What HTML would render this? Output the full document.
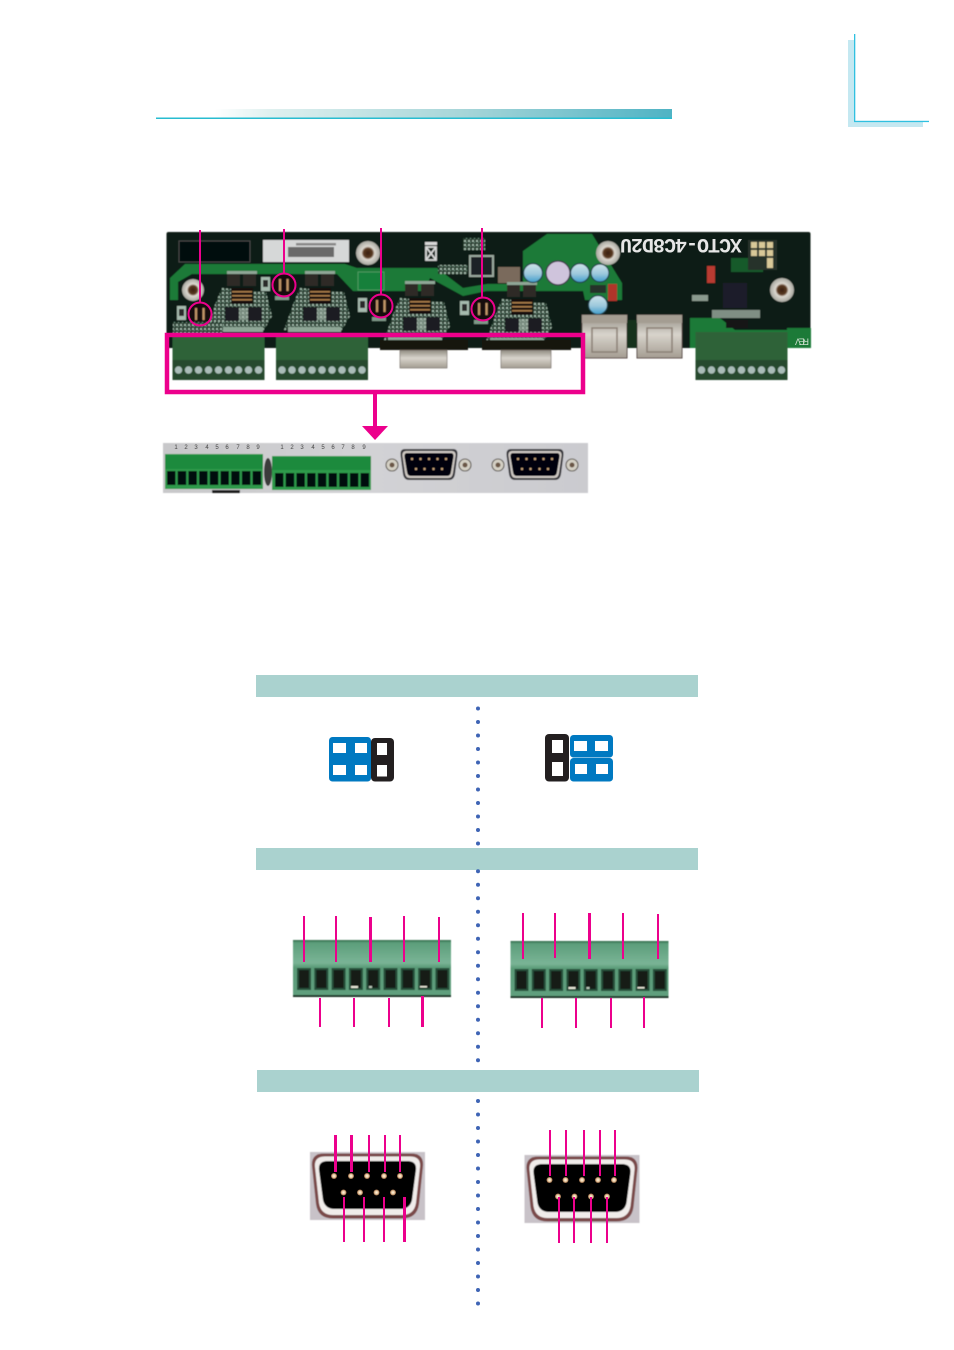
<!DOCTYPE html>
<html lang="en">
<head>
<meta charset="utf-8">
<title>Diagram</title>
<style>
html,body{margin:0;padding:0;background:#fff;width:954px;height:1350px;overflow:hidden}
svg{display:block;position:absolute;left:0;top:0}
text{font-family:"Liberation Sans",sans-serif}
</style>
</head>
<body>
<svg width="954" height="1350" viewBox="0 0 954 1350" xmlns="http://www.w3.org/2000/svg">
<defs>
  <linearGradient id="hdr" x1="0" x2="1" y1="0" y2="0">
    <stop offset="0" stop-color="#ffffff"/>
    <stop offset=".12" stop-color="#dff0ef"/>
    <stop offset=".55" stop-color="#a6d5d8"/>
    <stop offset="1" stop-color="#4fb3c4"/>
  </linearGradient>
  <linearGradient id="strip" x1="0" x2="1" y1="0" y2="0">
    <stop offset="0" stop-color="#c8c8ca"/>
    <stop offset=".5" stop-color="#d2d2d5"/>
    <stop offset="1" stop-color="#cbcbcf"/>
  </linearGradient>
  <linearGradient id="tb" x1="0" x2="0" y1="0" y2="1">
    <stop offset="0" stop-color="#33694c"/>
    <stop offset=".05" stop-color="#5c9e7b"/>
    <stop offset=".4" stop-color="#7ab496"/>
    <stop offset=".48" stop-color="#5a9b78"/>
    <stop offset="1" stop-color="#60a07e"/>
  </linearGradient>
  <linearGradient id="silver" x1="0" x2="0" y1="0" y2="1">
    <stop offset="0" stop-color="#8f8a80"/>
    <stop offset=".45" stop-color="#d8d4cc"/>
    <stop offset="1" stop-color="#a49d92"/>
  </linearGradient>
  <linearGradient id="capb" x1="0" x2="0" y1="0" y2="1">
    <stop offset="0" stop-color="#cfe4ea"/>
    <stop offset=".55" stop-color="#9cc8dc"/>
    <stop offset="1" stop-color="#3f9ccc"/>
  </linearGradient>
  <radialGradient id="screw">
    <stop offset="0" stop-color="#3a2010"/>
    <stop offset=".38" stop-color="#5a3a22"/>
    <stop offset=".55" stop-color="#dcd8d0"/>
    <stop offset="1" stop-color="#a8a8a0"/>
  </radialGradient>
  <radialGradient id="pin"><stop offset="0" stop-color="#fff6e4"/><stop offset=".55" stop-color="#e8c9a0"/><stop offset="1" stop-color="#8a5a38"/></radialGradient>
  <pattern id="speck" width="4" height="4" patternUnits="userSpaceOnUse">
    <rect width="4" height="4" fill="#20382c"/>
    <rect x="0" y="0" width="2" height="2" fill="#9db5a6"/>
    <rect x="2" y="2" width="1" height="1" fill="#6f9480"/>
  </pattern>
  <filter id="b1" x="-5%" y="-5%" width="110%" height="110%"><feGaussianBlur stdDeviation=".6"/></filter>
  <filter id="b2" x="-5%" y="-5%" width="110%" height="110%"><feGaussianBlur stdDeviation=".4"/></filter>

  <g id="slot">
    <rect x="0" y="0" width="14" height="22" fill="#27503a"/>
    <rect x="2" y="2" width="10" height="18" fill="#141c18"/>
  </g>
  <g id="tblock">
    <rect x="0" y="0" width="158" height="57" fill="url(#tb)"/>
    <rect x="0" y="55" width="158" height="2" fill="#1c3527"/>
    <use href="#slot" x="4" y="28"/><use href="#slot" x="21.3" y="28"/><use href="#slot" x="38.6" y="28"/>
    <use href="#slot" x="55.9" y="28"/><use href="#slot" x="73.2" y="28"/><use href="#slot" x="90.500" y="28"/>
    <use href="#slot" x="107.800" y="28"/><use href="#slot" x="125.100" y="28"/><use href="#slot" x="142.400" y="28"/>
    <rect x="58" y="46" width="7" height="2" fill="#e8e8d8"/>
    <rect x="76" y="46" width="3" height="2" fill="#b8c8b8"/>
    <rect x="127" y="46" width="7" height="1.500" fill="#e8e8d8"/>
  </g>

  <g id="stripslots">
    <rect x="0" width="8.500" height="14" fill="#060b08"/><rect x="10.700" width="8.500" height="14" fill="#060b08"/>
    <rect x="21.400" width="8.500" height="14" fill="#060b08"/><rect x="32.100" width="8.500" height="14" fill="#060b08"/>
    <rect x="42.800" width="8.500" height="14" fill="#060b08"/><rect x="53.500" width="8.500" height="14" fill="#060b08"/>
    <rect x="64.200" width="8.500" height="14" fill="#060b08"/><rect x="74.900" width="8.500" height="14" fill="#060b08"/>
    <rect x="85.600" width="8.500" height="14" fill="#060b08"/>
  </g>

  <g id="screws9">
    <rect x="0" y="0" width="92" height="20" fill="#27482f"/>
    <g fill="#a9bcb8">
      <circle cx="6" cy="10" r="3.700"/><circle cx="16" cy="10" r="3.700"/><circle cx="26" cy="10" r="3.700"/>
      <circle cx="36" cy="10" r="3.700"/><circle cx="46" cy="10" r="3.700"/><circle cx="56" cy="10" r="3.700"/>
      <circle cx="66" cy="10" r="3.700"/><circle cx="76" cy="10" r="3.700"/><circle cx="86" cy="10" r="3.700"/>
    </g>
  </g>

  <g id="mod">
    <path d="M-20,-8 L-26,6 L-36,34 H22 L30,20 L24,-4Z" fill="url(#speck)"/>
    <rect x="-15" y="-25" width="30" height="3" fill="#8fa696"/>
    <rect x="-15" y="-22" width="13" height="12" fill="#2f2a26"/>
    <rect x="1" y="-22" width="13" height="12" fill="#2f2a26"/>
    <rect x="-11" y="-8" width="22" height="16" fill="#15100c"/>
    <rect x="-10" y="-5" width="20" height="1.600" fill="#a87c48"/>
    <rect x="-10" y="-1" width="20" height="1.600" fill="#a87c48"/>
    <rect x="-10" y="3" width="20" height="1.600" fill="#a87c48"/>
    <rect x="-17" y="11" width="14" height="14" fill="#1c1a24"/>
    <rect x="6" y="11" width="14" height="14" fill="#1c1a24"/>
    <rect x="-3" y="12" width="9" height="12" fill="#aebcb0" opacity=".6"/>
    <rect x="-32" y="31" width="53" height="5" fill="#8ea696"/>
  </g>

  <g id="circJ">
    <circle r="11" fill="#160e08"/>
    <rect x="-5" y="-6" width="2.200" height="12" fill="#c09468"/>
    <rect x="2.500" y="-6" width="2.200" height="12" fill="#c09468"/>
    <rect x="-9" y="11" width="14" height="4" fill="#7e9888"/>
    <rect x="-23" y="-8" width="9" height="14" fill="#a6baae"/>
    <rect x="-21" y="-5" width="5" height="7" fill="#2a2a2a"/>
  </g>

  <g id="dbphoto">
    <path d="M-24,-16 H24 Q29,-16 28.500,-10 L26,9 Q25,15 20,15 H-20 Q-25,15 -26,9 L-28.500,-10 Q-29,-16 -24,-16Z" fill="#36343a"/>
    <path d="M-23,-14 H23 Q27,-14 26.500,-9 L24,8 Q23.500,13 19,13 H-19 Q-23.500,13 -24,8 L-26.500,-9 Q-27,-14 -23,-14Z" fill="#cfc9c4"/>
    <path d="M-22,-12 H22 Q25,-12 24.500,-8 L22,7 Q21.500,11 18,11 H-18 Q-21.500,11 -22,7 L-24.500,-8 Q-25,-12 -22,-12Z" fill="#060608"/>
    <g fill="#c9a47c">
      <circle cx="-17" cy="-6" r="1.200"/><circle cx="-8.500" cy="-6" r="1.200"/><circle cx="0" cy="-6" r="1.200"/><circle cx="8.500" cy="-6" r="1.200"/><circle cx="17" cy="-6" r="1.200"/>
      <circle cx="-13" cy="4" r="1.200"/><circle cx="-4.500" cy="4" r="1.200"/><circle cx="4.500" cy="4" r="1.200"/><circle cx="13" cy="4" r="1.200"/>
    </g>
  </g>
  <g id="screwsm">
    <circle r="6" fill="#d4d0c4" stroke="#5a5550" stroke-width="1.100"/>
    <circle r="2.500" fill="#6a5644"/>
  </g>

  <g id="db9">
    <rect x="0" y="0" width="115" height="68" fill="#c8c2c8"/>
    <path d="M14,1.500 H101 Q114,1.500 113,14 L109,52 Q107,66.500 92,66.500 H23 Q8,66.500 6,52 L2,14 Q1,1.500 14,1.500Z" fill="#7a4a4a"/>
    <path d="M15,4.500 H100 Q111,4.500 110,15 L106,51 Q104,63 92,63 H23 Q11,63 9,51 L5,15 Q4,4.500 15,4.500Z" fill="#f0ecea"/>
    <path d="M18,9 H97 Q107,9 106,18 L102,48 Q100,57 90,57 H25 Q15,57 13,48 L9,18 Q8,9 18,9Z" fill="#040404"/>
  </g>
</defs>

<!-- Page header -->
<rect x="215" y="109" width="457" height="9" fill="url(#hdr)"/>
<rect x="156" y="117.500" width="516" height="1.500" fill="#28bcd0"/>

<!-- Corner mark -->
<rect x="848" y="40" width="75" height="87" fill="#c4e8f1"/>
<rect x="855" y="40" width="68" height="81" fill="#fff"/>
<rect x="854" y="34" width="1.300" height="88" fill="#2fc0e0"/>
<rect x="854" y="120.800" width="75" height="1.300" fill="#2fc0e0"/>

<!-- PCB photo -->
<g filter="url(#b1)">
  <rect x="166.500" y="232" width="644" height="116" rx="2" fill="#0a1a12"/>
  <!-- copper band -->
  <path d="M170,300 V278 L185,264 H345 L357,268 H437 L463,288 L487,284 H523 L523,251 L547,234 H592 L622,283 V300 H585 L583,291 H523 H487 L463,296 L430,278 L425,291 H353 L337,274 H192 L178,282 V300Z" fill="#1a7a38"/>
  <!-- right green -->
  <path d="M690,318 L720,318 L735,330 H787 V328 H811 V348 H690Z" fill="#1c7a38"/>
  <rect x="731" y="258" width="32" height="14" fill="#145a2c"/>

  <!-- top black block & barcode -->
  <rect x="179" y="241" width="71" height="21" fill="#06080a" stroke="#4a4a4a" stroke-width="1"/>
  <rect x="263" y="240" width="86" height="22" fill="#d6d8d8"/>
  <rect x="288" y="247" width="46" height="10" fill="#6a6a6a"/>
  <rect x="296" y="243" width="40" height="2.500" fill="#888"/>
  <rect x="358" y="272" width="26" height="18" fill="#14803a" stroke="#5aa06c" stroke-width=".8"/>

  <!-- bin icon -->
  <path d="M426,247 H436 V260 H426Z M426,247 L436,260 M436,247 L426,260" fill="none" stroke="#d8d8d8" stroke-width="1.800"/>
  <rect x="425" y="242" width="12" height="3" fill="#d8d8d8"/>

  <!-- central chip -->
  <rect x="463" y="238" width="22" height="12" fill="url(#speck)"/>
  <rect x="470" y="256" width="23" height="20" fill="#1c2228" stroke="#9aa89e" stroke-width="2"/>
  <rect x="438" y="265" width="30" height="9" fill="url(#speck)"/>
  <rect x="498" y="267" width="22" height="16" fill="#7a6a5c"/>

  <!-- screws -->
  <circle cx="193" cy="290" r="11" fill="url(#screw)"/>
  <circle cx="368" cy="253" r="12" fill="url(#screw)"/>
  <circle cx="608" cy="253" r="12" fill="url(#screw)"/>
  <circle cx="782" cy="290" r="12" fill="url(#screw)"/>

  <!-- modules -->
  <use href="#mod" x="242" y="296"/>
  <use href="#mod" x="320" y="296"/>
  <use href="#mod" x="420" y="306"/>
  <use href="#mod" x="522" y="307"/>

  <!-- jumpers under circles -->
  <use href="#circJ" x="200" y="314"/>
  <use href="#circJ" x="284" y="285"/>
  <use href="#circJ" x="381" y="306"/>
  <use href="#circJ" x="483" y="309"/>
  <rect x="173" y="322" width="50" height="12" fill="url(#speck)"/>

  <!-- capacitors -->
  <circle cx="533" cy="273" r="9.500" fill="url(#capb)" stroke="#24404c" stroke-width="1.200"/>
  <circle cx="558" cy="273" r="12" fill="#cfc4dc" stroke="#3c3248" stroke-width="1.200"/>
  <circle cx="580" cy="273" r="9.500" fill="url(#capb)" stroke="#24404c" stroke-width="1.200"/>
  <circle cx="600" cy="273" r="9" fill="url(#capb)" stroke="#24404c" stroke-width="1.200"/>
  <circle cx="598" cy="305" r="9.500" fill="url(#capb)" stroke="#24404c" stroke-width="1.200"/>
  <rect x="608" y="284" width="9" height="17" fill="#b0352a"/>
  <rect x="590" y="285" width="16" height="8" fill="#26302a"/>

  <!-- right side parts -->
  <rect x="707" y="266" width="8" height="17" fill="#b83a32"/>
  <rect x="723" y="283" width="24" height="25" fill="#1c1c2a"/>
  <rect x="692" y="295" width="16" height="6" fill="#8a9a8e"/>
  <rect x="712" y="310" width="48" height="8" fill="#7f8f84"/>
  <rect x="726" y="320" width="22" height="8" fill="#141414"/>
  <rect x="748" y="240" width="29" height="30" fill="#26302a"/>
  <g fill="#d8c898">
    <rect x="751" y="242" width="6" height="6"/><rect x="759" y="242" width="6" height="6"/><rect x="767" y="242" width="6" height="6"/>
    <rect x="751" y="250" width="6" height="6"/><rect x="759" y="250" width="6" height="6"/><rect x="767" y="250" width="6" height="6"/>
    <rect x="767" y="258" width="6" height="10"/>
  </g>

  <!-- silver ports -->
  <rect x="582" y="315" width="45" height="43" fill="url(#silver)" stroke="#5a4e48" stroke-width="1"/>
  <rect x="637" y="315" width="45" height="43" fill="url(#silver)" stroke="#5a4e48" stroke-width="1"/>
  <rect x="582" y="315" width="45" height="8" fill="#a49d92"/>
  <rect x="637" y="315" width="45" height="8" fill="#a49d92"/>
  <rect x="592" y="328" width="25" height="24" fill="none" stroke="#8a7f74" stroke-width="1.500"/>
  <rect x="647" y="328" width="25" height="24" fill="none" stroke="#8a7f74" stroke-width="1.500"/>
  <rect x="627" y="320" width="10" height="28" fill="#18301f"/>

  <!-- terminal blocks on PCB -->
  <rect x="172.500" y="336" width="92" height="25" fill="#2d6238"/>
  <use href="#screws9" x="172.500" y="360"/>
  <rect x="276" y="336" width="92" height="25" fill="#2d6238"/>
  <use href="#screws9" x="276" y="360"/>
  <rect x="695.500" y="332" width="92" height="29" fill="#2d6238"/>
  <use href="#screws9" x="695.500" y="360"/>

  <!-- D-sub on PCB -->
  <rect x="380" y="340" width="88" height="10" fill="#16120f"/>
  <rect x="400" y="350" width="47" height="18" fill="url(#silver)" stroke="#6a625a" stroke-width=".6"/>
  <rect x="482" y="340" width="89" height="10" fill="#16120f"/>
  <rect x="501" y="350" width="50" height="18" fill="url(#silver)" stroke="#6a625a" stroke-width=".6"/>
</g>
<text transform="rotate(180 681 245.500)" x="620" y="252" font-size="20" font-weight="700" fill="#e6e6e6" textLength="122" lengthAdjust="spacing" style="font-family:'Liberation Mono',monospace">XCTO-4C8D2U</text>
<text transform="rotate(180 802 342)" x="795" y="345.500" font-size="9" fill="#cfe0d0" textLength="14">REV</text>

<!-- Pink callouts on PCB -->
<g stroke="#ec008c" fill="none">
  <g stroke-width="2">
    <line x1="200" y1="230" x2="200" y2="303"/>
    <line x1="284" y1="229" x2="284" y2="274"/>
    <line x1="381" y1="228" x2="381" y2="295"/>
    <line x1="482" y1="228" x2="482" y2="298"/>
    <circle cx="200" cy="314" r="11.500"/>
    <circle cx="284" cy="285" r="11.500"/>
    <circle cx="381" cy="306" r="11.500"/>
    <circle cx="483" cy="309" r="11.500"/>
  </g>
  <rect x="167" y="335" width="416" height="57" stroke-width="4.500"/>
  <line x1="375" y1="394" x2="375" y2="427" stroke-width="4"/>
</g>
<polygon points="362,426 388,426 375,440" fill="#ec008c"/>

<!-- Strip photo -->
<g filter="url(#b2)">
  <rect x="163" y="443" width="425" height="50" fill="url(#strip)"/>
  <ellipse cx="268" cy="472" rx="4" ry="14" fill="#3a3a3a"/>
  <rect x="165" y="454" width="98" height="35" fill="#2f9a4c"/>
  <rect x="165" y="455" width="98" height="14" fill="#1e8a3c"/>
  <use href="#stripslots" x="167" y="471"/>
  <rect x="272" y="456" width="99" height="34" fill="#2f9a4c"/>
  <rect x="272" y="457" width="99" height="13" fill="#1e8a3c"/>
  <use href="#stripslots" x="275" y="473"/>
  <rect x="212" y="490" width="28" height="3" fill="#1a1a1a"/>
  <use href="#dbphoto" x="429" y="465"/>
  <use href="#dbphoto" x="535" y="465"/>
  <use href="#screwsm" x="392" y="465"/>
  <use href="#screwsm" x="465" y="465"/>
  <use href="#screwsm" x="498" y="465"/>
  <use href="#screwsm" x="572" y="465"/>
</g>
<g font-size="6" fill="#444" text-anchor="middle">
  <text x="176" y="449">1</text><text x="186" y="449">2</text><text x="196" y="449">3</text><text x="207" y="449">4</text><text x="217" y="449">5</text><text x="227" y="449">6</text><text x="238" y="449">7</text><text x="248" y="449">8</text><text x="258" y="449">9</text>
  <text x="282" y="449">1</text><text x="292" y="449">2</text><text x="302" y="449">3</text><text x="313" y="449">4</text><text x="323" y="449">5</text><text x="333" y="449">6</text><text x="343" y="449">7</text><text x="353" y="449">8</text><text x="364" y="449">9</text>
</g>

<!-- Section bars -->
<rect x="256" y="675" width="442" height="22" fill="#aad2cf"/>
<rect x="256" y="848" width="442" height="22" fill="#aad2cf"/>
<rect x="257" y="1070" width="442" height="22" fill="#aad2cf"/>

<!-- Dotted dividers -->
<g stroke="#3e64b5" stroke-width="4" stroke-linecap="round" stroke-dasharray="0 13.500" fill="none">
  <line x1="478" y1="708.500" x2="478" y2="845"/>
  <line x1="478" y1="871.200" x2="478" y2="1062"/>
  <line x1="478" y1="1101" x2="478" y2="1305"/>
</g>

<!-- Jumper left -->
<rect x="329" y="737" width="42" height="22" rx="3.500" fill="#0079c1"/>
<rect x="329" y="759" width="42" height="22.500" rx="3.500" fill="#0079c1"/>
<rect x="329" y="750" width="42" height="20" fill="#0079c1"/>
<rect x="371" y="738" width="23" height="43.500" rx="4" fill="#231f20"/>
<g fill="#fff">
  <rect x="333" y="743" width="13" height="10"/><rect x="355" y="743" width="12" height="10"/>
  <rect x="333" y="765" width="13" height="10"/><rect x="355" y="765" width="12" height="10"/>
  <rect x="377" y="743" width="10" height="12"/><rect x="377" y="765" width="10" height="11.500"/>
</g>
<!-- Jumper right -->
<rect x="545" y="734" width="24" height="47.500" rx="4" fill="#231f20"/>
<rect x="570" y="735" width="43" height="22.500" rx="3.500" fill="#0079c1"/>
<rect x="570" y="758" width="43" height="23.500" rx="3.500" fill="#0079c1"/>
<g fill="#fff">
  <rect x="552" y="740" width="11" height="13"/><rect x="552" y="762" width="11" height="14"/>
  <rect x="574" y="741" width="13" height="10"/><rect x="595" y="741" width="13" height="10"/>
  <rect x="575" y="764" width="12" height="10"/><rect x="596" y="764" width="12" height="10"/>
</g>

<!-- Terminal blocks -->
<g filter="url(#b2)">
  <use href="#tblock" x="293" y="940"/>
  <use href="#tblock" x="510.500" y="941"/>
</g>
<g fill="#ec008c">
  <rect x="303" y="916" width="2" height="46"/><rect x="335" y="916" width="2" height="46"/>
  <rect x="369" y="917" width="3" height="45"/><rect x="403" y="916" width="2" height="46"/><rect x="438" y="917" width="2" height="45"/>
  <rect x="319" y="998" width="2" height="29"/><rect x="353" y="998" width="2" height="29"/>
  <rect x="388" y="998" width="2" height="29"/><rect x="421" y="996" width="3" height="31"/>
  <rect x="522" y="913" width="2" height="46"/><rect x="554" y="913" width="2" height="45"/>
  <rect x="588" y="913" width="3" height="46"/><rect x="622" y="913" width="2" height="46"/><rect x="657" y="914" width="2" height="45"/>
  <rect x="541" y="998" width="2" height="30"/><rect x="575" y="998" width="2" height="30"/>
  <rect x="610" y="998" width="2" height="30"/><rect x="643" y="997" width="2" height="31"/>
</g>

<!-- DB9 connectors -->
<g filter="url(#b1)">
  <use href="#db9" x="310" y="1152"/>
  <use href="#db9" x="524.500" y="1155"/>
</g>
<g fill="url(#pin)">
  <circle cx="334" cy="1176" r="3"/><circle cx="351" cy="1176" r="3"/><circle cx="367" cy="1176" r="3"/><circle cx="384" cy="1176" r="3"/><circle cx="400" cy="1176" r="3"/>
  <circle cx="343.500" cy="1192.500" r="3"/><circle cx="360" cy="1192.500" r="3"/><circle cx="376.500" cy="1192.500" r="3"/><circle cx="393" cy="1192.500" r="3"/>
  <circle cx="549.500" cy="1180" r="3"/><circle cx="565.500" cy="1180" r="3"/><circle cx="582" cy="1180" r="3"/><circle cx="598" cy="1180" r="3"/><circle cx="614" cy="1180" r="3"/>
  <circle cx="558" cy="1196.500" r="3"/><circle cx="574.500" cy="1196.500" r="3"/><circle cx="591" cy="1196.500" r="3"/><circle cx="607" cy="1196.500" r="3"/>
</g>
<g fill="#ec008c">
  <rect x="334" y="1135" width="3" height="37"/><rect x="350" y="1135" width="3" height="37"/>
  <rect x="368" y="1135" width="2" height="37"/><rect x="384" y="1135" width="2" height="37"/><rect x="399" y="1135" width="2" height="37"/>
  <rect x="343" y="1197" width="2" height="45"/><rect x="363" y="1197" width="2" height="45"/>
  <rect x="383" y="1197" width="2" height="45"/><rect x="403" y="1197" width="3" height="45"/>
  <rect x="549" y="1130" width="2" height="46"/><rect x="565" y="1130" width="2" height="46"/>
  <rect x="583" y="1130" width="2" height="46"/><rect x="599" y="1130" width="2" height="46"/><rect x="614" y="1130" width="2" height="46"/>
  <rect x="558" y="1197" width="2" height="46"/><rect x="573" y="1197" width="2" height="46"/>
  <rect x="590" y="1197" width="2" height="46"/><rect x="606" y="1197" width="2" height="46"/>
</g>
</svg>
</body>
</html>
